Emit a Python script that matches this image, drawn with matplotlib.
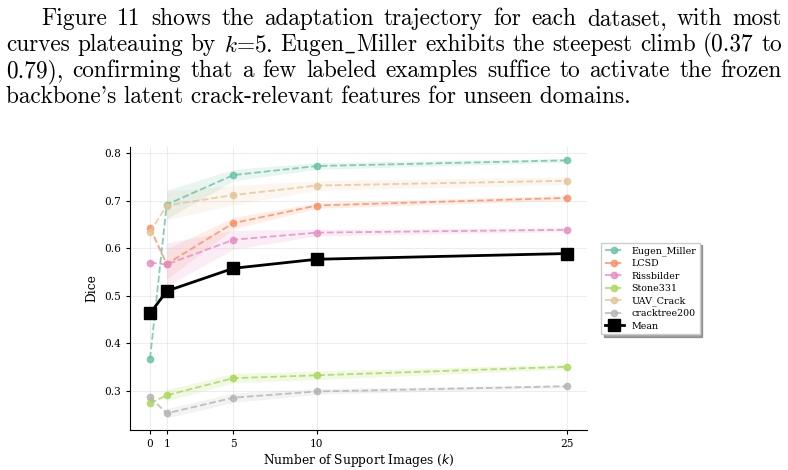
import numpy as np
import matplotlib
matplotlib.use('Agg')
import matplotlib.pyplot as plt

# Data
k_shots = [0, 1, 5, 10, 25]
datasets = ['Eugen_Miller', 'LCSD', 'Rissbilder', 'Stone331', 'UAV_Crack', 'cracktree200']
colors = ['#66c2a5', '#fc8d62', '#e78ac3', '#a6d854', '#e5c494', '#b3b3b3']

eugen_miller = [0.368, 0.692, 0.754, 0.773, 0.785]
lcsd = [0.643, 0.567, 0.653, 0.690, 0.706]
rissbilder = [0.570, 0.566, 0.618, 0.633, 0.639]
stone331 = [0.274, 0.291, 0.327, 0.333, 0.351]
uav_crack = [0.634, 0.690, 0.712, 0.732, 0.742]
cracktree200 = [0.287, 0.253, 0.286, 0.299, 0.310]

# std over support draws (none at k=0)
eugen_miller_std = [0.0, 0.030, 0.012, 0.007, 0.004]
lcsd_std = [0.0, 0.032, 0.012, 0.006, 0.005]
rissbilder_std = [0.0, 0.045, 0.020, 0.007, 0.004]
stone331_std = [0.0, 0.012, 0.010, 0.009, 0.005]
uav_crack_std = [0.0, 0.030, 0.020, 0.010, 0.008]
cracktree200_std = [0.0, 0.010, 0.010, 0.006, 0.003]

means = [eugen_miller, lcsd, rissbilder, stone331, uav_crack, cracktree200]
stds = [eugen_miller_std, lcsd_std, rissbilder_std, stone331_std, uav_crack_std, cracktree200_std]
overall_mean = [0.463, 0.510, 0.558, 0.577, 0.589]

paragraph = [
    "Figure 11 shows the adaptation trajectory for each dataset, with most",
    "curves plateauing by $k$=5. Eugen$\\_$Miller exhibits the steepest climb (0.37 to",
    "0.79), confirming that a few labeled examples suffice to activate the frozen",
    "backbone's latent crack-relevant features for unseen domains.",
]

W, H = 788, 470
fig = plt.figure(figsize=(W / 100, H / 100), dpi=100)

# ---- chart ----
ax = fig.add_axes([130 / W, 1 - 430 / H, 457 / W, 283 / H])
x = np.array(k_shots)
for name, c, m, s in zip(datasets, colors, means, stds):
    m = np.array(m)
    s = np.array(s)
    ax.fill_between(x[1:], (m - s)[1:], (m + s)[1:], color=c, alpha=0.15, lw=0)
    ax.plot(x, m, '--o', color=c, lw=1.3, ms=4.5, alpha=0.8, label=name)
ax.plot(x, overall_mean, '-s', color='black', lw=2, ms=8.5, label='Mean', zorder=5)

ax.set_xlim(-1.2, 26.2)
ax.set_ylim(0.218, 0.813)
ax.set_xticks(k_shots)
ax.set_yticks([0.3, 0.4, 0.5, 0.6, 0.7, 0.8])
ax.grid(True, color='#cccccc', alpha=0.35, lw=0.8)
ax.spines['top'].set_visible(False)
ax.spines['right'].set_visible(False)
ax.tick_params(labelsize=7.6, length=3, width=0.8)
for lab in ax.get_xticklabels() + ax.get_yticklabels():
    lab.set_family('DejaVu Serif')
ax.set_xlabel('Number of Support Images ($k$)', family='DejaVu Serif', fontsize=8.8, labelpad=2)
ax.set_ylabel('Dice', family='DejaVu Serif', fontsize=8.8)
ax.legend(loc='center left', bbox_to_anchor=(1.02, 0.5), prop={'family': 'DejaVu Serif', 'size': 6.8},
          shadow=True, fancybox=False, edgecolor='#cccccc', handlelength=2.0, labelspacing=0.35)

# ---- justified paragraph above the chart ----
fs = 16.8
left_edges = [41, 6, 6, 6]
right_edge = 782
baselines = [25, 51, 77, 103]
renderer = fig.canvas.get_renderer()
for i, line in enumerate(paragraph):
    y = 1 - baselines[i] / H
    if i == len(paragraph) - 1:
        fig.text(left_edges[i] / W, y, line, family='cmr10', fontsize=fs, va='baseline',
                 math_fontfamily='cm')
        continue
    words = line.split(' ')
    texts = [fig.text(0, y, w, family='cmr10', fontsize=fs, va='baseline', math_fontfamily='cm')
             for w in words]
    widths = [t.get_window_extent(renderer).width for t in texts]
    gap = (right_edge - left_edges[i] - sum(widths)) / (len(words) - 1)
    xpos = left_edges[i]
    for t, wd in zip(texts, widths):
        t.set_x(xpos / W)
        xpos += wd + gap

fig.savefig('out.png', dpi=100)
